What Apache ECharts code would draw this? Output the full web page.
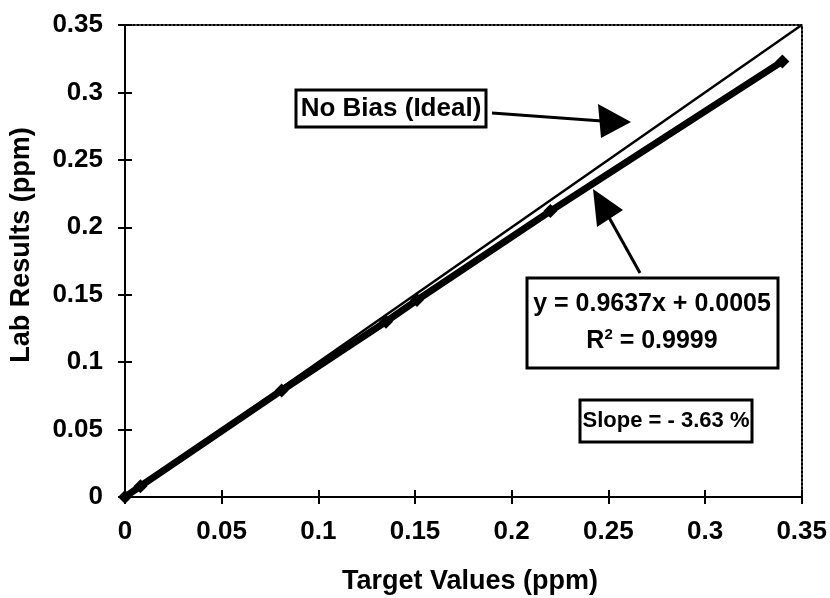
<!DOCTYPE html>
<html>
<head>
<meta charset="utf-8">
<script src="https://cdn.jsdelivr.net/npm/echarts@6/dist/echarts.min.js"></script>
<style>
    html, body { margin: 0; padding: 0; background: #fff; }
    #chart { width: 830px; height: 598px; }
</style>
</head>
<body>
<div id="chart"></div>
<script>
// measured points (target vs lab result, ppm)
var targetValues = [0, 0.008, 0.081, 0.135, 0.151, 0.22, 0.34];
var labResults = [0, 0.008, 0.079, 0.13, 0.146, 0.212, 0.323];
// ideal line y = x
var idealX = [0, 0.35];
var idealY = [0, 0.35];
var axisMin = 0, axisMax = 0.35, axisStep = 0.05;

var font = '"Liberation Sans", Arial, sans-serif';

var chart = echarts.init(document.getElementById('chart'));

function zip(a, b) {
    var out = [];
    for (var i = 0; i < a.length; i++) out.push([a[i], b[i]]);
    return out;
}

function baseAxis(extra) {
    var ax = {
        type: 'value',
        min: axisMin,
        max: axisMax,
        interval: axisStep,
        splitLine: { show: false },
        axisLine: { show: false },
        axisTick: { show: false },
        axisLabel: { show: false }
    };
    for (var k in extra) ax[k] = extra[k];
    return ax;
}

var labelStyle = { show: true, color: '#000', fontFamily: font, fontWeight: 'bold', fontSize: 26 };

var option = {
    animation: false,
    backgroundColor: '#fff',
    grid: { left: 125, right: 25, top: 25, bottom: 101 },
    xAxis: [
        baseAxis({
            position: 'bottom',
            axisLine: { show: true, onZero: false, lineStyle: { color: '#000', width: 2 } },
            axisTick: { show: true, length: 7, lineStyle: { color: '#000', width: 2 } },
            axisLabel: Object.assign({ margin: 22 }, labelStyle)
        }),
        baseAxis({
            position: 'bottom',
            axisTick: { show: true, inside: true, length: 7, lineStyle: { color: '#000', width: 2 } }
        }),
        baseAxis({
            position: 'top',
            axisLine: { show: true, onZero: false, lineStyle: { color: '#000', width: 2, type: [2, 2] } }
        })
    ],
    yAxis: [
        baseAxis({
            position: 'left',
            axisLine: { show: true, onZero: false, lineStyle: { color: '#000', width: 2 } },
            axisTick: { show: true, length: 7, lineStyle: { color: '#000', width: 2 } },
            axisLabel: Object.assign({ margin: 22 }, labelStyle)
        }),
        baseAxis({
            position: 'left',
            axisTick: { show: true, inside: true, length: 7, lineStyle: { color: '#000', width: 2 } }
        }),
        baseAxis({
            position: 'right',
            axisLine: { show: true, onZero: false, lineStyle: { color: '#000', width: 2, type: [2, 2] } }
        })
    ],
    series: [
        {
            name: 'No Bias (Ideal)',
            type: 'line',
            xAxisIndex: 0,
            yAxisIndex: 0,
            data: zip(idealX, idealY),
            symbol: 'none',
            lineStyle: { color: '#000', width: 2.5 }
        },
        {
            name: 'Lab Results',
            type: 'line',
            xAxisIndex: 0,
            yAxisIndex: 0,
            data: zip(targetValues, labResults),
            symbol: 'diamond',
            symbolSize: 14,
            itemStyle: { color: '#000' },
            lineStyle: { color: '#000', width: 7 }
        }
    ],
    graphic: [
        // axis titles
        {
            type: 'text', x: 470, y: 582,
            style: { text: 'Target Values (ppm)', font: 'bold 27px ' + font, fill: '#000', align: 'center', verticalAlign: 'middle' }
        },
        {
            type: 'text', x: 22, y: 245, rotation: Math.PI / 2,
            style: { text: 'Lab Results (ppm)', font: 'bold 27px ' + font, fill: '#000', align: 'center', verticalAlign: 'middle' }
        },
        // "No Bias" label and arrow
        {
            type: 'rect', shape: { x: 296, y: 90, width: 190, height: 37 },
            style: { fill: '#fff', stroke: '#000', lineWidth: 3 }
        },
        {
            type: 'text', x: 391, y: 109,
            style: { text: 'No Bias (Ideal)', font: 'bold 26px ' + font, fill: '#000', align: 'center', verticalAlign: 'middle' }
        },
        { type: 'line', shape: { x1: 492, y1: 113, x2: 602, y2: 121 }, style: { stroke: '#000', lineWidth: 3 } },
        { type: 'polygon', shape: { points: [[598, 104], [631, 122], [601, 138]] }, style: { fill: '#000' } },
        // regression label and arrow
        { type: 'line', shape: { x1: 640, y1: 273, x2: 606, y2: 212 }, style: { stroke: '#000', lineWidth: 3 } },
        { type: 'polygon', shape: { points: [[593, 189], [623, 210], [597, 227]] }, style: { fill: '#000' } },
        {
            type: 'rect', shape: { x: 527, y: 278, width: 251, height: 90 },
            style: { fill: '#fff', stroke: '#000', lineWidth: 3 }
        },
        {
            type: 'text', x: 652, y: 304,
            style: { text: 'y = 0.9637x + 0.0005', font: 'bold 25px ' + font, fill: '#000', align: 'center', verticalAlign: 'middle' }
        },
        {
            type: 'text', x: 652, y: 341,
            style: {
                text: '{b|R}{s|2}{b| = 0.9999}',
                align: 'center', verticalAlign: 'middle',
                rich: {
                    b: { font: 'bold 25px ' + font, fill: '#000' },
                    s: { font: 'bold 15px ' + font, fill: '#000', verticalAlign: 'top', padding: [0, 0, 12, 0] }
                }
            }
        },
        // slope label
        {
            type: 'rect', shape: { x: 580, y: 400, width: 172, height: 42 },
            style: { fill: '#fff', stroke: '#000', lineWidth: 3 }
        },
        {
            type: 'text', x: 666, y: 421,
            style: { text: 'Slope = - 3.63 %', font: 'bold 22px ' + font, fill: '#000', align: 'center', verticalAlign: 'middle' }
        }
    ]
};

chart.setOption(option);
</script>
</body>
</html>
